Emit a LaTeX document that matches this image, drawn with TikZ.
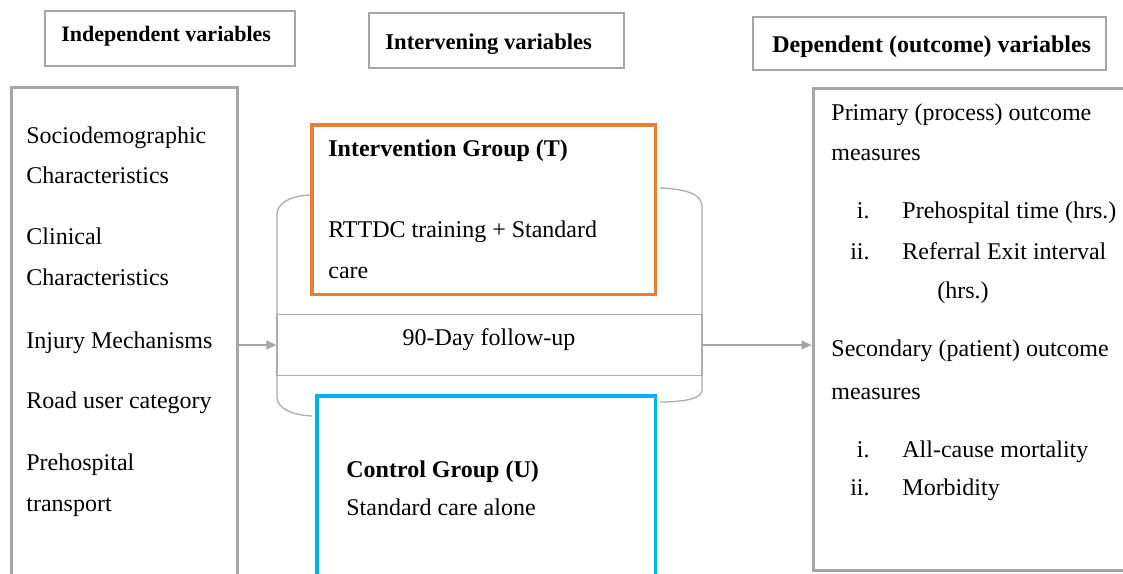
\documentclass[tikz,border=0pt]{standalone}
\usepackage{fontspec}
\setmainfont{Liberation Serif}
\usetikzlibrary{arrows.meta}
\definecolor{boxgray}{HTML}{A6A6A6}
\definecolor{linegray}{HTML}{ADADAD}
\definecolor{orng}{HTML}{ED7D31}
\definecolor{cyanb}{HTML}{00B0F0}
\begin{document}
\begin{tikzpicture}[x=0.5pt,y=-0.5pt,
  txt/.style={anchor=base west,inner sep=0pt,font=\fontsize{12}{14}\selectfont},
  btxt/.style={anchor=base west,inner sep=0pt,font=\fontsize{12}{14}\selectfont\bfseries},
  num/.style={anchor=base east,inner sep=0pt,font=\fontsize{12}{14}\selectfont},
  hdrbox/.style={draw=boxgray,line width=0.7pt,inner sep=0pt},
  bigbox/.style={draw=boxgray,line width=1.5pt,inner sep=0pt},
  thinline/.style={draw=linegray,line width=0.65pt},
  grpT/.style={draw=orng,line width=1.75pt,fill=white,inner sep=0pt},
  grpU/.style={draw=cyanb,line width=1.75pt,fill=white,inner sep=0pt},
  arr/.style={draw=boxgray,line width=0.75pt,-{Triangle[length=5pt,width=4.5pt]}}
]
\clip (0,0) rectangle (1123,573);
\fill[white] (0,0) rectangle (1123,573);

% header boxes
\node[hdrbox,minimum width=125pt,minimum height=27.5pt] (h1) at (170,38.5) {};
\node[btxt,font=\fontsize{11}{13}\selectfont\bfseries] (h1t) at (61,41) {Independent variables};
\node[hdrbox,minimum width=127.5pt,minimum height=27.5pt] (h2) at (496.5,40.5) {};
\node[btxt,font=\fontsize{11.3}{13}\selectfont\bfseries] (h2t) at (385,49) {Intervening variables};
\node[hdrbox,minimum width=176.5pt,minimum height=26.5pt] (h3) at (929.5,43.5) {};
\node[btxt] (h3t) at (772,52) {Dependent (outcome) variables};

% big side boxes
\node[bigbox,minimum width=113pt,minimum height=256.5pt] (lb) at (124,343.5) {};
\node[bigbox,minimum width=163.5pt,minimum height=241pt] (rb) at (976.5,329) {};

% bracket pair
\draw[thinline] (310,195) .. controls (290,196) and (277,203) .. (277,215)
  -- (277,397) .. controls (277,409) and (293,415) .. (312,416);
\draw[thinline] (660,188) .. controls (688,189) and (702,195) .. (702,206)
  -- (702,390) .. controls (702,397) and (690,402) .. (660,402);

% follow-up band
\node[thinline,minimum width=212.5pt,minimum height=30.5pt,inner sep=0pt] (band) at (489.5,345) {};
\node[anchor=base,inner sep=0pt,font=\fontsize{12}{14}\selectfont] (bandt) at (489,345) {90-Day follow-up};

% group boxes
\node[grpT,minimum width=171.75pt,minimum height=84.75pt] (gT) at (483.5,209.5) {};
\node[grpU,minimum width=169.25pt,minimum height=102.1pt] (gU) at (486,497.9) {};

% arrows
\draw[arr] (band.west -| lb.east) -- (band.west);
\draw[arr] (band.east) -- (band.east -| rb.west);

% left texts
\node[txt] (l1) at (26,143) {Sociodemographic};
\node[txt] (l2) at (26,183) {Characteristics};
\node[txt] (l3) at (26,244) {Clinical};
\node[txt] (l4) at (26,285) {Characteristics};
\node[txt] (l5) at (26,348) {Injury Mechanisms};
\node[txt] (l6) at (26,408) {Road user category};
\node[txt] (l7) at (26,470) {Prehospital};
\node[txt] (l8) at (26,511) {transport};

% group texts
\node[btxt] (t1) at (328,156) {Intervention Group (T)};
\node[txt] (t2) at (328,237) {RTTDC training + Standard};
\node[txt] (t3) at (328,278) {care};
\node[btxt] (u1) at (346,477) {Control Group (U)};
\node[txt] (u2) at (346,515) {Standard care alone};

% right texts
\node[txt] (r1) at (831,120) {Primary (process) outcome};
\node[txt] (r2) at (831,160) {measures};
\node[num] (r3n) at (870,218) {i.};
\node[txt] (r3) at (902,218) {Prehospital time (hrs.)};
\node[num] (r4n) at (870,259) {ii.};
\node[txt] (r4) at (902,259) {Referral Exit interval};
\node[txt] (r5) at (937,298) {(hrs.)};
\node[txt] (r6) at (831,356) {Secondary (patient) outcome};
\node[txt] (r7) at (831,399) {measures};
\node[num] (r8n) at (870,457) {i.};
\node[txt] (r8) at (902,457) {All-cause mortality};
\node[num] (r9n) at (870,495) {ii.};
\node[txt] (r9) at (902,495) {Morbidity};
\end{tikzpicture}
\end{document}
